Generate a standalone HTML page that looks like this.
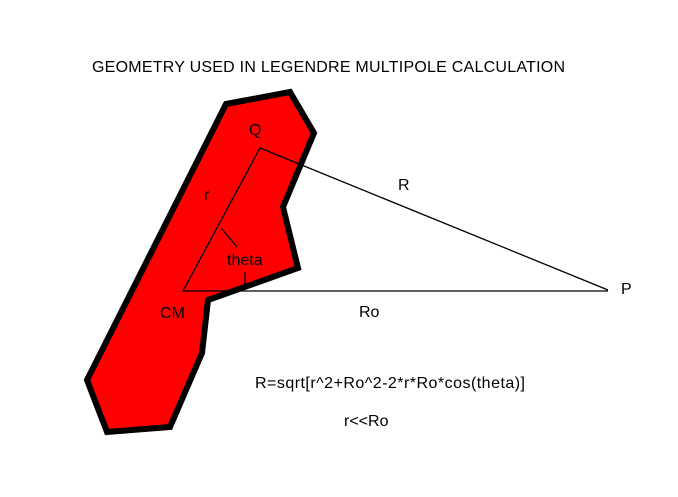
<!DOCTYPE html>
<html><head><style>
body{margin:0;background:#fff}
text{font-family:"Liberation Sans",sans-serif;font-size:16px;fill:#000}
</style></head><body>
<svg width="678" height="492" viewBox="0 0 678 492" xmlns="http://www.w3.org/2000/svg">
<rect width="678" height="492" fill="#fff"/>
<polygon points="226,104 290,92 314,133 283,207 298,268 208,300 202,353 170,427 107,432 87,380" fill="#f00" stroke="#000" stroke-width="6" stroke-linejoin="miter"/>
<g stroke="#000" stroke-width="1.3" fill="none">
<polyline points="608,290 260,148 183,291 608,291"/>
<line x1="221" y1="228" x2="237" y2="247"/>
<line x1="245" y1="272" x2="245" y2="290"/>
</g>
<text x="92" y="72" textLength="473">GEOMETRY USED IN LEGENDRE MULTIPOLE CALCULATION</text>
<text x="249" y="135">Q</text>
<text x="204" y="200">r</text>
<text x="398" y="190">R</text>
<text x="227" y="265">theta</text>
<text x="621" y="294">P</text>
<text x="160" y="318">CM</text>
<text x="359" y="317">Ro</text>
<text x="255" y="388" textLength="270">R=sqrt[r^2+Ro^2-2*r*Ro*cos(theta)]</text>
<text x="344" y="426">r&lt;&lt;Ro</text>
</svg>
</body></html>
